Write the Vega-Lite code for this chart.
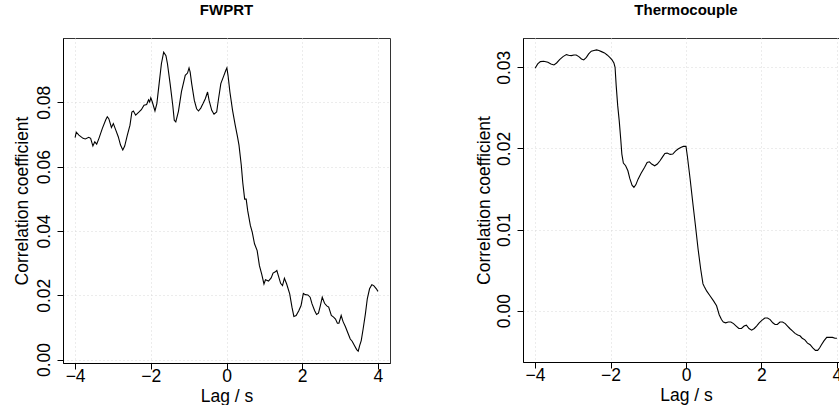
{
  "$schema": "https://vega.github.io/schema/vega-lite/v6.json",
  "background": "white",
  "autosize": {"type": "pad"},
  "padding": {"left": 12, "top": 2, "right": -10, "bottom": 0},
  "spacing": 133,
  "bounds": "flush",
  "config": {
    "font": "Liberation Sans",
    "view": {"stroke": "#333", "strokeWidth": 1},
    "axis": {
      "labelFont": "Liberation Sans", "labelFontSize": 17.5, "labelColor": "black",
      "titleFont": "Liberation Sans", "titleFontSize": 17.5, "titleFontWeight": "normal", "titleColor": "black",
      "domainColor": "black", "domainWidth": 1, "tickColor": "black", "tickSize": 6, "tickWidth": 1,
      "grid": true, "gridColor": "#d9d9d9", "gridDash": [1, 3], "gridWidth": 1
    },
    "axisX": {"labelBaseline": "alphabetic", "labelPadding": 12, "titleBaseline": "alphabetic", "titleY": 38, "labelFlush": false},
    "axisY": {"labelAngle": 270, "labelAlign": "center", "labelBaseline": "alphabetic", "labelPadding": 8,
      "titleAngle": 270, "titleAlign": "center", "titleBaseline": "alphabetic", "titleX": -36, "titleY": 162.5, "labelFlush": false},
    "title": {"font": "Liberation Sans", "fontSize": 15, "fontWeight": "bold", "color": "black", "baseline": "alphabetic", "offset": 20, "frame": "group", "anchor": "middle"}
  },
  "datasets": {
    "fwprt": [
      {"lag": -4.00, "r": 0.0690}, {"lag": -3.97, "r": 0.0707}, {"lag": -3.90, "r": 0.0698}, {"lag": -3.79, "r": 0.0688},
      {"lag": -3.73, "r": 0.0686}, {"lag": -3.64, "r": 0.0691}, {"lag": -3.59, "r": 0.0688}, {"lag": -3.53, "r": 0.0664},
      {"lag": -3.48, "r": 0.0677}, {"lag": -3.43, "r": 0.0670}, {"lag": -3.37, "r": 0.0688}, {"lag": -3.28, "r": 0.0719},
      {"lag": -3.19, "r": 0.0746}, {"lag": -3.15, "r": 0.0755}, {"lag": -3.11, "r": 0.0749}, {"lag": -3.04, "r": 0.0722},
      {"lag": -2.99, "r": 0.0734}, {"lag": -2.93, "r": 0.0715}, {"lag": -2.86, "r": 0.0693}, {"lag": -2.80, "r": 0.0667},
      {"lag": -2.74, "r": 0.0652}, {"lag": -2.69, "r": 0.0664}, {"lag": -2.62, "r": 0.0698}, {"lag": -2.55, "r": 0.0729},
      {"lag": -2.50, "r": 0.0770}, {"lag": -2.46, "r": 0.0773}, {"lag": -2.40, "r": 0.0760}, {"lag": -2.31, "r": 0.0770},
      {"lag": -2.25, "r": 0.0777}, {"lag": -2.18, "r": 0.0791}, {"lag": -2.11, "r": 0.0793}, {"lag": -2.06, "r": 0.0808},
      {"lag": -2.03, "r": 0.0801}, {"lag": -2.00, "r": 0.0814}, {"lag": -1.96, "r": 0.0801}, {"lag": -1.89, "r": 0.0773},
      {"lag": -1.84, "r": 0.0796}, {"lag": -1.78, "r": 0.0858}, {"lag": -1.72, "r": 0.0920}, {"lag": -1.66, "r": 0.0956},
      {"lag": -1.60, "r": 0.0945}, {"lag": -1.56, "r": 0.0920}, {"lag": -1.49, "r": 0.0858}, {"lag": -1.42, "r": 0.0791},
      {"lag": -1.38, "r": 0.0744}, {"lag": -1.34, "r": 0.0739}, {"lag": -1.27, "r": 0.0772}, {"lag": -1.19, "r": 0.0833},
      {"lag": -1.09, "r": 0.0884}, {"lag": -1.03, "r": 0.0891}, {"lag": -0.99, "r": 0.0907}, {"lag": -0.96, "r": 0.0894},
      {"lag": -0.92, "r": 0.0858}, {"lag": -0.85, "r": 0.0806}, {"lag": -0.79, "r": 0.0780}, {"lag": -0.74, "r": 0.0773},
      {"lag": -0.68, "r": 0.0782}, {"lag": -0.62, "r": 0.0796}, {"lag": -0.56, "r": 0.0811}, {"lag": -0.50, "r": 0.0832},
      {"lag": -0.46, "r": 0.0806}, {"lag": -0.39, "r": 0.0775}, {"lag": -0.33, "r": 0.0763}, {"lag": -0.26, "r": 0.0770},
      {"lag": -0.21, "r": 0.0811}, {"lag": -0.15, "r": 0.0858}, {"lag": -0.08, "r": 0.0880}, {"lag": -0.02, "r": 0.0899},
      {"lag": 0.01, "r": 0.0907}, {"lag": 0.04, "r": 0.0884}, {"lag": 0.09, "r": 0.0832}, {"lag": 0.16, "r": 0.0775},
      {"lag": 0.23, "r": 0.0729}, {"lag": 0.29, "r": 0.0693}, {"lag": 0.33, "r": 0.0667}, {"lag": 0.39, "r": 0.0605},
      {"lag": 0.43, "r": 0.0550}, {"lag": 0.48, "r": 0.0499}, {"lag": 0.52, "r": 0.0499}, {"lag": 0.56, "r": 0.0463},
      {"lag": 0.63, "r": 0.0417}, {"lag": 0.68, "r": 0.0396}, {"lag": 0.74, "r": 0.0360}, {"lag": 0.81, "r": 0.0339},
      {"lag": 0.87, "r": 0.0292}, {"lag": 0.93, "r": 0.0266}, {"lag": 0.99, "r": 0.0235}, {"lag": 1.03, "r": 0.0248},
      {"lag": 1.11, "r": 0.0244}, {"lag": 1.18, "r": 0.0254}, {"lag": 1.23, "r": 0.0269}, {"lag": 1.28, "r": 0.0272},
      {"lag": 1.33, "r": 0.0277}, {"lag": 1.37, "r": 0.0261}, {"lag": 1.43, "r": 0.0237}, {"lag": 1.48, "r": 0.0230},
      {"lag": 1.53, "r": 0.0253}, {"lag": 1.59, "r": 0.0235}, {"lag": 1.67, "r": 0.0204}, {"lag": 1.73, "r": 0.0163},
      {"lag": 1.78, "r": 0.0134}, {"lag": 1.84, "r": 0.0137}, {"lag": 1.91, "r": 0.0152}, {"lag": 1.97, "r": 0.0168},
      {"lag": 2.03, "r": 0.0206}, {"lag": 2.08, "r": 0.0202}, {"lag": 2.15, "r": 0.0201}, {"lag": 2.21, "r": 0.0194},
      {"lag": 2.26, "r": 0.0173}, {"lag": 2.33, "r": 0.0152}, {"lag": 2.38, "r": 0.0140}, {"lag": 2.43, "r": 0.0144},
      {"lag": 2.48, "r": 0.0168}, {"lag": 2.53, "r": 0.0194}, {"lag": 2.59, "r": 0.0175}, {"lag": 2.65, "r": 0.0167},
      {"lag": 2.70, "r": 0.0163}, {"lag": 2.77, "r": 0.0137}, {"lag": 2.83, "r": 0.0132}, {"lag": 2.88, "r": 0.0126},
      {"lag": 2.93, "r": 0.0113}, {"lag": 2.97, "r": 0.0113}, {"lag": 3.03, "r": 0.0137}, {"lag": 3.08, "r": 0.0118},
      {"lag": 3.14, "r": 0.0103}, {"lag": 3.21, "r": 0.0082}, {"lag": 3.27, "r": 0.0064}, {"lag": 3.32, "r": 0.0057},
      {"lag": 3.38, "r": 0.0044}, {"lag": 3.44, "r": 0.0031}, {"lag": 3.48, "r": 0.0026}, {"lag": 3.52, "r": 0.0044},
      {"lag": 3.56, "r": 0.0059}, {"lag": 3.61, "r": 0.0095}, {"lag": 3.67, "r": 0.0142}, {"lag": 3.72, "r": 0.0189},
      {"lag": 3.78, "r": 0.0220}, {"lag": 3.84, "r": 0.0233}, {"lag": 3.89, "r": 0.0230}, {"lag": 3.96, "r": 0.0220},
      {"lag": 4.00, "r": 0.0212}
    ],
    "thermo": [
      {"lag": -4.00, "r": 0.02988}, {"lag": -3.93, "r": 0.03041}, {"lag": -3.86, "r": 0.03070}, {"lag": -3.77, "r": 0.03074},
      {"lag": -3.66, "r": 0.03062}, {"lag": -3.58, "r": 0.03041}, {"lag": -3.50, "r": 0.03029}, {"lag": -3.43, "r": 0.03053},
      {"lag": -3.35, "r": 0.03095}, {"lag": -3.26, "r": 0.03132}, {"lag": -3.17, "r": 0.03156}, {"lag": -3.11, "r": 0.03148},
      {"lag": -3.04, "r": 0.03144}, {"lag": -2.97, "r": 0.03152}, {"lag": -2.91, "r": 0.03152}, {"lag": -2.84, "r": 0.03132},
      {"lag": -2.77, "r": 0.03103}, {"lag": -2.71, "r": 0.03091}, {"lag": -2.64, "r": 0.03123}, {"lag": -2.58, "r": 0.03165},
      {"lag": -2.51, "r": 0.03198}, {"lag": -2.44, "r": 0.03206}, {"lag": -2.37, "r": 0.03214}, {"lag": -2.31, "r": 0.03206},
      {"lag": -2.24, "r": 0.03193}, {"lag": -2.16, "r": 0.03177}, {"lag": -2.09, "r": 0.03152}, {"lag": -2.02, "r": 0.03123},
      {"lag": -1.96, "r": 0.03091}, {"lag": -1.91, "r": 0.03053}, {"lag": -1.88, "r": 0.03000}, {"lag": -1.85, "r": 0.02774},
      {"lag": -1.81, "r": 0.02527}, {"lag": -1.77, "r": 0.02342}, {"lag": -1.73, "r": 0.02115}, {"lag": -1.70, "r": 0.01930},
      {"lag": -1.66, "r": 0.01819}, {"lag": -1.60, "r": 0.01786}, {"lag": -1.54, "r": 0.01724}, {"lag": -1.49, "r": 0.01630},
      {"lag": -1.43, "r": 0.01547}, {"lag": -1.38, "r": 0.01519}, {"lag": -1.33, "r": 0.01551}, {"lag": -1.27, "r": 0.01621},
      {"lag": -1.19, "r": 0.01695}, {"lag": -1.10, "r": 0.01765}, {"lag": -1.03, "r": 0.01827}, {"lag": -0.97, "r": 0.01835},
      {"lag": -0.91, "r": 0.01807}, {"lag": -0.83, "r": 0.01786}, {"lag": -0.76, "r": 0.01807}, {"lag": -0.69, "r": 0.01848},
      {"lag": -0.63, "r": 0.01889}, {"lag": -0.56, "r": 0.01938}, {"lag": -0.50, "r": 0.01942}, {"lag": -0.42, "r": 0.01926},
      {"lag": -0.35, "r": 0.01930}, {"lag": -0.28, "r": 0.01967}, {"lag": -0.21, "r": 0.01992}, {"lag": -0.14, "r": 0.02012},
      {"lag": -0.07, "r": 0.02025}, {"lag": 0.00, "r": 0.02025}, {"lag": 0.035, "r": 0.0191}, {"lag": 0.11, "r": 0.0162},
      {"lag": 0.18, "r": 0.0133}, {"lag": 0.25, "r": 0.0105}, {"lag": 0.32, "r": 0.0076}, {"lag": 0.39, "r": 0.0051},
      {"lag": 0.45, "r": 0.0033}, {"lag": 0.48, "r": 0.0030}, {"lag": 0.55, "r": 0.0024}, {"lag": 0.64, "r": 0.0018},
      {"lag": 0.73, "r": 0.0012}, {"lag": 0.81, "r": 0.0006}, {"lag": 0.88, "r": -0.0005}, {"lag": 0.94, "r": -0.0011},
      {"lag": 0.99, "r": -0.0014}, {"lag": 1.05, "r": -0.0015}, {"lag": 1.12, "r": -0.0014}, {"lag": 1.19, "r": -0.0014},
      {"lag": 1.26, "r": -0.0016}, {"lag": 1.33, "r": -0.0019}, {"lag": 1.40, "r": -0.0022}, {"lag": 1.47, "r": -0.0022},
      {"lag": 1.54, "r": -0.0019}, {"lag": 1.60, "r": -0.0018}, {"lag": 1.67, "r": -0.0022}, {"lag": 1.74, "r": -0.0024},
      {"lag": 1.81, "r": -0.0022}, {"lag": 1.87, "r": -0.0019}, {"lag": 1.94, "r": -0.0015}, {"lag": 2.01, "r": -0.0012},
      {"lag": 2.09, "r": -0.0009}, {"lag": 2.16, "r": -0.0009}, {"lag": 2.23, "r": -0.0011}, {"lag": 2.30, "r": -0.0015},
      {"lag": 2.36, "r": -0.0017}, {"lag": 2.42, "r": -0.0017}, {"lag": 2.49, "r": -0.0014}, {"lag": 2.56, "r": -0.0014},
      {"lag": 2.63, "r": -0.0016}, {"lag": 2.69, "r": -0.0019}, {"lag": 2.75, "r": -0.0022}, {"lag": 2.82, "r": -0.0025},
      {"lag": 2.89, "r": -0.0028}, {"lag": 2.96, "r": -0.0030}, {"lag": 3.02, "r": -0.0031}, {"lag": 3.08, "r": -0.0034},
      {"lag": 3.15, "r": -0.0036}, {"lag": 3.22, "r": -0.0040}, {"lag": 3.29, "r": -0.0042}, {"lag": 3.36, "r": -0.0046},
      {"lag": 3.43, "r": -0.0049}, {"lag": 3.49, "r": -0.0049}, {"lag": 3.54, "r": -0.0046}, {"lag": 3.59, "r": -0.0042},
      {"lag": 3.66, "r": -0.0037}, {"lag": 3.73, "r": -0.0033}, {"lag": 3.81, "r": -0.0033}, {"lag": 3.88, "r": -0.0033},
      {"lag": 3.95, "r": -0.0034}, {"lag": 4.00, "r": -0.0034}
    ]
  },
  "hconcat": [
    {
      "title": {"text": "FWPRT"},
      "width": 327,
      "height": 325,
      "data": {"name": "fwprt"},
      "mark": {"type": "line", "color": "black", "strokeWidth": 1.1, "interpolate": "linear"},
      "encoding": {
        "x": {"field": "lag", "type": "quantitative", "title": "Lag / s",
          "scale": {"domain": [-4.32, 4.32], "nice": false, "zero": false},
          "axis": {"values": [-4, -2, 0, 2, 4], "format": "d"}},
        "y": {"field": "r", "type": "quantitative", "title": "Correlation coefficient",
          "scale": {"domain": [-0.00107, 0.1000], "nice": false, "zero": false},
          "axis": {"values": [0, 0.02, 0.04, 0.06, 0.08], "format": ".2f"}}
      }
    },
    {
      "title": {"text": "Thermocouple"},
      "width": 326,
      "height": 324,
      "data": {"name": "thermo"},
      "mark": {"type": "line", "color": "black", "strokeWidth": 1.1, "interpolate": "linear"},
      "encoding": {
        "x": {"field": "lag", "type": "quantitative", "title": "Lag / s",
          "scale": {"domain": [-4.32, 4.32], "nice": false, "zero": false},
          "axis": {"values": [-4, -2, 0, 2, 4], "format": "d"}},
        "y": {"field": "r", "type": "quantitative", "title": "Correlation coefficient",
          "scale": {"domain": [-0.00633, 0.03361], "nice": false, "zero": false},
          "axis": {"values": [0, 0.01, 0.02, 0.03], "format": ".2f", "titleX": -34, "titleY": 162}}
      }
    }
  ]
}
